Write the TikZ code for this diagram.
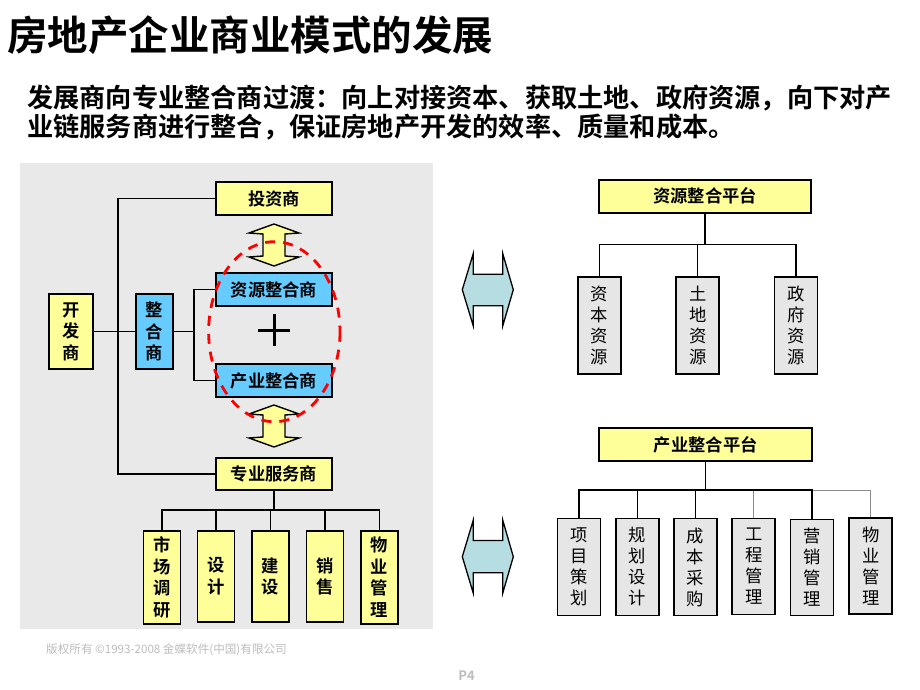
\documentclass[tikz,border=0pt]{standalone}
\usepackage{fontspec}
\setmainfont{Noto Sans CJK SC}[BoldFont={Noto Sans CJK SC Bold}]
\definecolor{boxyellow}{HTML}{FFFF99}
\definecolor{boxblue}{HTML}{66CCFF}
\definecolor{boxgray}{HTML}{E6E6E6}
\definecolor{panelgray}{HTML}{E9E9E9}
\definecolor{arrowcyan}{HTML}{B6DDE1}
\definecolor{copygray}{HTML}{BDBDBD}
\definecolor{linegray}{HTML}{8C8C8C}
\begin{document}
\begin{tikzpicture}[x=1pt,y=-1pt,
  box/.style={draw=black, line width=1.6pt, inner sep=0pt, align=center},
  ybox/.style={box, fill=boxyellow, font=\fontsize{17.3}{21.5}\selectfont\bfseries},
  bbox/.style={box, fill=boxblue, font=\fontsize{17.3}{21.5}\selectfont\bfseries},
  gbox/.style={box, fill=boxgray, font=\fontsize{17.3}{21}\selectfont},
  conn/.style={line width=1.4pt, draw=black},
  thinconn/.style={line width=1pt, draw=linegray},
  yarrow/.style={draw=black, line width=1.4pt, fill=boxyellow, line join=miter},
  carrow/.style={draw=black, line width=1.3pt, fill=arrowcyan, line join=miter},
  redell/.style={draw=red, line width=2.8pt, dash pattern=on 10pt off 8pt}
]
\useasboundingbox (0,0) rectangle (920,690);
\fill[white] (0,0) rectangle (920,690);

% titles
\node[anchor=west, inner sep=0pt, font=\fontsize{40.5}{40.5}\selectfont\bfseries] (title) at (7,35) {房地产企业商业模式的发展};
\node[anchor=west, inner sep=0pt, font=\fontsize{26.2}{29}\selectfont\bfseries] (sub1) at (27,98) {发展商向专业整合商过渡：向上对接资本、获取土地、政府资源，向下对产};
\node[anchor=west, inner sep=0pt, font=\fontsize{26.2}{29}\selectfont\bfseries] (sub2) at (27,127) {业链服务商进行整合，保证房地产开发的效率、质量和成本。};

% left panel
\fill[panelgray] (20,163) rectangle (433,629);

\node[ybox, minimum width=116pt, minimum height=33pt] (tz) at (274,198.5) {投资商};
\node[bbox, minimum width=116pt, minimum height=33pt] (zyz) at (274,289.5) {资源整合商};
\node[bbox, minimum width=116pt, minimum height=33pt] (cyz) at (274,380.5) {产业整合商};
\node[ybox, minimum width=116pt, minimum height=32pt] (zy) at (274,474) {专业服务商};
\node[ybox, minimum width=44pt, minimum height=75pt] (dev) at (71,331.5) {开\\发\\商};
\node[bbox, minimum width=37pt, minimum height=75pt] (zh) at (154.5,331.5) {整\\合\\商};

\coordinate (trunk) at (118,0);
\coordinate (br) at (194,0);
\coordinate (bus1) at (0,510);

\draw[conn] (tz.west) -- (tz.west -| trunk) -- (zy.west -| trunk) -- (zy.west);
\draw[conn] (dev.east) -- (zh.west);
\draw[conn] (zh.east) -- (zh.east -| br);
\draw[conn] (zyz.west) -- (zyz.west -| br) -- (cyz.west -| br) -- (cyz.west);

% plus sign
\draw[line width=3pt] (258,330) -- (290,330);
\draw[line width=3pt] (274,314) -- (274,346);

% bottom service boxes
\node[ybox, minimum width=37pt, minimum height=93pt] (b1) at (161.8,577.3) {市\\场\\调\\研};
\node[ybox, minimum width=37pt, minimum height=91pt] (b2) at (216,576.2) {设\\计};
\node[ybox, minimum width=37pt, minimum height=91pt] (b3) at (270.5,576.2) {建\\设};
\node[ybox, minimum width=37pt, minimum height=91pt] (b4) at (324.8,576.2) {销\\售};
\node[ybox, minimum width=37pt, minimum height=93pt] (b5) at (379.2,577.3) {物\\业\\管\\理};

\draw[conn] (zy.south) -- (zy.south |- bus1);
\draw[conn] (b1.north) -- (b1.north |- bus1) -- (b5.north |- bus1) -- (b5.north);
\draw[conn] (b2.north) -- (b2.north |- bus1);
\draw[conn] (b3.north) -- (b3.north |- bus1);
\draw[conn] (b4.north) -- (b4.north |- bus1);

% yellow double arrows
\draw[yarrow] (274,224) -- (249,233) -- (263,234) -- (263,256) -- (249,257) -- (274,266) -- (299,257) -- (285,256) -- (285,234) -- (299,233) -- cycle;
\draw[yarrow] (274,405) -- (249,414) -- (263,415) -- (263,437) -- (249,438) -- (274,447) -- (299,438) -- (285,437) -- (285,415) -- (299,414) -- cycle;

% red dashed ellipse
\draw[redell] (274.3,331.7) ellipse [x radius=65.7, y radius=90];

% right top
\node[ybox, minimum width=212pt, minimum height=33pt] (rp) at (705,196.3) {资源整合平台};
\node[gbox, minimum width=43pt, minimum height=97pt] (r1) at (599.3,325.3) {资\\本\\资\\源};
\node[gbox, minimum width=43pt, minimum height=97pt] (r2) at (697.7,325.3) {土\\地\\资\\源};
\node[gbox, minimum width=43pt, minimum height=97pt] (r3) at (795.8,325.3) {政\\府\\资\\源};
\coordinate (bus2) at (0,244.7);
\draw[conn] (rp.south) -- (rp.south |- bus2);
\draw[conn] (r1.north) -- (r1.north |- bus2) -- (r3.north |- bus2) -- (r3.north);
\draw[conn] (r2.north) -- (r2.north |- bus2);

% right bottom
\node[ybox, minimum width=213pt, minimum height=33pt] (ip) at (705.7,444.7) {产业整合平台};
\node[gbox, minimum width=43pt, minimum height=97pt] (c1) at (579,567) {项\\目\\策\\划};
\node[gbox, minimum width=43pt, minimum height=97pt] (c2) at (637.3,567) {规\\划\\设\\计};
\node[gbox, minimum width=43pt, minimum height=97pt] (c3) at (695.3,567) {成\\本\\采\\购};
\node[gbox, minimum width=43pt, minimum height=96pt] (c4) at (753.7,566.3) {工\\程\\管\\理};
\node[gbox, minimum width=43pt, minimum height=96pt] (c5) at (812,567.3) {营\\销\\管\\理};
\node[gbox, minimum width=43pt, minimum height=96pt] (c6) at (870.7,566) {物\\业\\管\\理};
\coordinate (bus3) at (0,490);
\draw[thinconn] (c5.north |- bus3) -- (c6.north |- bus3) -- (c6.north);
\draw[thinconn] (c4.north) -- (c4.north |- bus3);
\draw[conn] (ip.south) -- (ip.south |- bus3);
\draw[conn] (c1.north) -- (c1.north |- bus3) -- (c5.north |- bus3) -- (c5.north);
\draw[conn] (c2.north) -- (c2.north |- bus3);
\draw[conn] (c3.north) -- (c3.north |- bus3);

% cyan double arrows
\draw[carrow] (462.3,289.7) -- (473.3,253.4) -- (473.3,274.3) -- (502.7,274.3) -- (502.7,253.4) -- (513.3,289.7) -- (502.7,326) -- (502.7,305.7) -- (473.3,305.7) -- (473.3,326) -- cycle;
\draw[carrow] (462.3,556.7) -- (473.3,520) -- (473.3,540.4) -- (502.7,540.4) -- (502.7,520) -- (513.3,556.7) -- (502.7,593.3) -- (502.7,572.8) -- (473.3,572.8) -- (473.3,593.3) -- cycle;

% footer
\node[anchor=west, inner sep=0pt, text=copygray, font=\fontsize{11.6}{11.6}\selectfont] (copy) at (46,650) {版权所有 ©1993-2008 金蝶软件(中国)有限公司};
\node[inner sep=0pt, text=copygray, font=\fontsize{13}{13}\selectfont\bfseries] (pg) at (466.5,676) {P4};
\end{tikzpicture}
\end{document}
